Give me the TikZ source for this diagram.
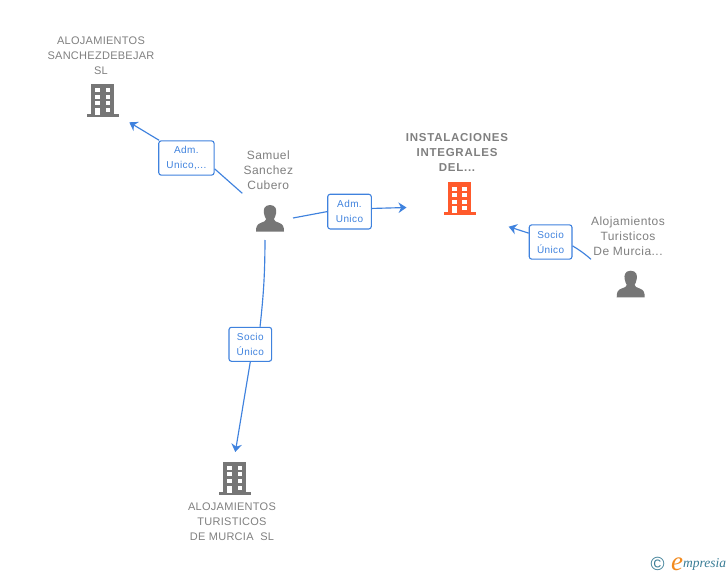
\documentclass[tikz,border=0pt]{standalone}
\usepackage{fontspec}
\setmainfont{Liberation Sans}
\newfontfamily\logofont{Liberation Serif}
\newfontfamily\capsfont[LetterSpace=2.5]{Liberation Sans}
\newfontfamily\namefont[LetterSpace=3.8]{Liberation Sans}
\newfontfamily\strongfont[LetterSpace=6.5,BoldFont={Liberation Sans Bold}]{Liberation Sans}
\newfontfamily\rolefont[LetterSpace=4]{Liberation Sans}
\usetikzlibrary{arrows.meta}
\definecolor{icongray}{HTML}{767676}
\definecolor{textgray}{HTML}{808080}
\definecolor{hilite}{HTML}{FF5A2C}
\definecolor{linkblue}{HTML}{3F82DE}
\definecolor{logoteal}{HTML}{3A7D96}
\definecolor{logoorange}{HTML}{F28A1E}
\tikzset{
  x=1pt,y=-1pt,
  caption/.style={text=textgray,align=center,inner sep=0pt,font=\capsfont\fontsize{11}{15}\selectfont},
  namecaption/.style={caption,font=\namefont\fontsize{12}{15}\selectfont},
  strongcaption/.style={caption,font=\strongfont\bfseries\fontsize{11.5}{15}\selectfont},
  role/.style={draw=linkblue,line width=1.1pt,rounded corners=2.5pt,fill=white,text=linkblue,align=center,inner sep=0pt,font=\rolefont\fontsize{10}{15}\selectfont},
  link/.style={draw=linkblue,line width=1.15pt},
  linkarrow/.style={link,-{Stealth[length=8pt,width=10.5pt,inset=2.6pt]}},
  building/.pic={
    \fill[pic actions] (-11.3,0) rectangle (11.3,31);
    \fill[pic actions] (-16,30) rectangle (16,33);
    \foreach \yy in {4.2,10.7,17.2}{
      \fill[white] (-7.3,\yy) rectangle (-2.8,\yy+4);
      \fill[white] (2.8,\yy) rectangle (7.3,\yy+4);
    }
    \fill[white] (-7.3,23.8) rectangle (-3,31);
    \fill[white] (2.8,23.8) rectangle (7.3,27.8);
  },
  person/.pic={
    \fill[pic actions] (0,0) .. controls (-6,0) and (-6.8,5) .. (-6,8.5)
      .. controls (-5.6,11) and (-4.6,13) .. (-3.9,14.2)
      .. controls (-3.9,16) and (-6,16.8) .. (-9,17.8)
      .. controls (-13,19.2) and (-14,21.5) .. (-14,26.7)
      -- (14,26.7)
      .. controls (14,21.5) and (13,19.2) .. (9,17.8)
      .. controls (6,16.8) and (3.9,16) .. (3.9,14.2)
      .. controls (4.6,13) and (5.6,11) .. (6,8.5)
      .. controls (6.8,5) and (6,0) .. (0,0) -- cycle;
  }
}
\begin{document}
\begin{tikzpicture}
\useasboundingbox (0,0) rectangle (728,575);
\fill[white] (0,0) rectangle (728,575);

% icons
\pic[fill=icongray] (b1) at (102.7,84.3) {building};
\pic[fill=hilite] (b2) at (459.5,182.3) {building};
\pic[fill=icongray] (b3) at (234.7,461.7) {building};
\pic[fill=icongray] (p1) at (270,205) {person};
\pic[fill=icongray] (p2) at (630.7,270.7) {person};

% captions
\node[caption] (t1) at (101,55.5) {ALOJAMIENTOS\\SANCHEZDEBEJAR\\SL};
\node[namecaption] (t2) at (268.3,170.5) {Samuel\\Sanchez\\Cubero};
\node[strongcaption] (t3) at (457,152.5) {INSTALACIONES\\INTEGRALES\\DEL...};
\node[namecaption] (t4) at (628,236.5) {Alojamientos\\Turisticos\\De Murcia...};
\node[caption] (t5) at (232,521.5) {ALOJAMIENTOS\\TURISTICOS\\DE MURCIA\ \ SL};

% relation boxes
\node[role,minimum width=55.3pt,minimum height=34.3pt] (r1) at (186.4,158) {Adm.\\Unico,...};
\node[role,minimum width=43.6pt,minimum height=34.7pt] (r2) at (349.5,211.6) {Adm.\\Unico};
\node[role,minimum width=42.7pt,minimum height=34.3pt] (r3) at (550.6,242) {Socio\\Único};
\node[role,minimum width=42.7pt,minimum height=34pt] (r4) at (250.3,344.3) {Socio\\Único};

% free ends
\coordinate (s1) at (242.3,193.3);
\coordinate (e1) at (129.3,122.3);
\coordinate (s2) at (293,218);
\coordinate (e2) at (406.5,207.5);
\coordinate (s3) at (591,259.3);
\coordinate (e3) at (508.7,226.7);
\coordinate (s4) at (265,240);
\coordinate (e4) at (235.3,452);

% connectors
\draw[link] (s1) -- (r1.-21.7);
\draw[linkarrow] (r1.147.7) -- (e1);
\draw[link] (s2) -- (r2.west);
\draw[linkarrow] (r2.8.6) -- (e2);
\draw[link] (s3) to[bend right=5] (r3.-10.6);
\draw[linkarrow] (r3.158.5) -- (e3);
\draw[link] (s4) to[bend left=3] (r4.61.6);
\draw[linkarrow] (r4.south) -- (e4);

% logo
\node[text=logoteal,inner sep=0pt,font=\fontsize{19}{19}\selectfont] (lc) at (657.5,564) {©};
\node[text=logoorange,inner sep=0pt,font=\logofont\itshape\fontsize{27}{27}\selectfont] (le) at (677,564) {e};
\node[text=logoteal,inner sep=0pt,font=\logofont\itshape\fontsize{13.5}{14}\selectfont,anchor=west] (lm) at (683,564.5) {mpresia};
\end{tikzpicture}
\end{document}
